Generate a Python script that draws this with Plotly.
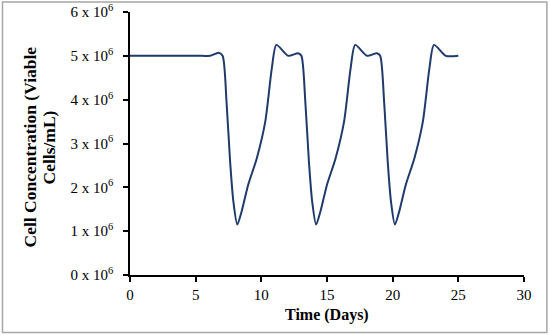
import plotly.graph_objects as go

time_days = [0, 3.0, 5.5, 6.1, 6.75, 7.05, 7.35, 7.62, 7.87, 8.17, 8.5, 9.0, 9.65, 10.3, 10.8, 11.15,
             12.05, 12.8, 13.05, 13.35, 13.62, 13.87, 14.17, 14.5, 15.0, 15.65, 16.3, 16.8, 17.15,
             18.05, 18.8, 19.05, 19.35, 19.62, 19.87, 20.17, 20.5, 21.0, 21.65, 22.3, 22.8, 23.15,
             24.05, 25.0]
cells_millions = [5.0, 5.0, 5.0, 5.0, 5.07, 5.0, 3.95, 2.6, 1.68, 1.15, 1.45, 2.06, 2.66, 3.5, 4.72, 5.25,
                  5.0, 5.06, 5.0, 3.95, 2.6, 1.68, 1.15, 1.45, 2.06, 2.66, 3.5, 4.72, 5.25,
                  5.0, 5.06, 5.0, 3.95, 2.6, 1.68, 1.15, 1.45, 2.06, 2.66, 3.5, 4.72, 5.25,
                  5.0, 5.0]
x_ticks = [0, 5, 10, 15, 20, 25, 30]
y_ticks = [0, 1, 2, 3, 4, 5, 6]
y_tick_labels = [f"{v} x 10<sup>6</sup>" for v in y_ticks]
y_title_lines = ["Cell Concentration (Viable", "Cells/mL)"]
x_title = "Time (Days)"

font_family = "Liberation Serif, Times New Roman, serif"

fig = go.Figure()
fig.add_trace(go.Scatter(
    x=time_days, y=cells_millions, mode="lines",
    line=dict(color="#1F3A6B", width=2, shape="spline", smoothing=0.7),
    showlegend=False, hoverinfo="skip"))

fig.update_layout(
    width=550, height=335,
    margin=dict(l=130, r=26, t=12, b=60, autoexpand=False),
    paper_bgcolor="white", plot_bgcolor="white",
    font=dict(family=font_family, size=15, color="black"),
    xaxis=dict(range=[0, 30], tickvals=x_ticks, showgrid=False, zeroline=False,
               showline=True, linecolor="black", linewidth=1.5,
               ticks="outside", ticklen=5, tickcolor="black", tickwidth=1.5,
               tickfont=dict(family=font_family, size=15)),
    yaxis=dict(range=[0, 6], tickvals=y_ticks, ticktext=y_tick_labels, showgrid=False,
               zeroline=False, showline=True, linecolor="black", linewidth=1.5,
               ticks="outside", ticklen=5, tickcolor="black", tickwidth=1.5,
               ticklabelstandoff=7,
               tickfont=dict(family=font_family, size=15)),
)

for line_text, xpos in zip(y_title_lines, [-0.2538, -0.2056]):
    fig.add_annotation(x=xpos, y=0.485, xref="paper", yref="paper",
                       xanchor="center", yanchor="middle",
                       text=f"<b>{line_text}</b>",
                       textangle=-90, showarrow=False,
                       font=dict(family=font_family, size=17.5, color="black"))
fig.add_annotation(x=0.5, y=-0.152, xref="paper", yref="paper",
                   xanchor="center", yanchor="middle",
                   text=f"<b>{x_title}</b>", showarrow=False,
                   font=dict(family=font_family, size=16, color="black"))

fig.add_shape(type="rect", xref="paper", yref="paper",
              x0=-0.3236, x1=1.058, y0=-0.2186, y1=1.038,
              line=dict(color="#A6A6A6", width=1.5), fillcolor="rgba(0,0,0,0)")

fig.write_html("out.html", config={"displayModeBar": False},
               post_script="document.body.style.margin='0';document.body.style.overflow='hidden';")
